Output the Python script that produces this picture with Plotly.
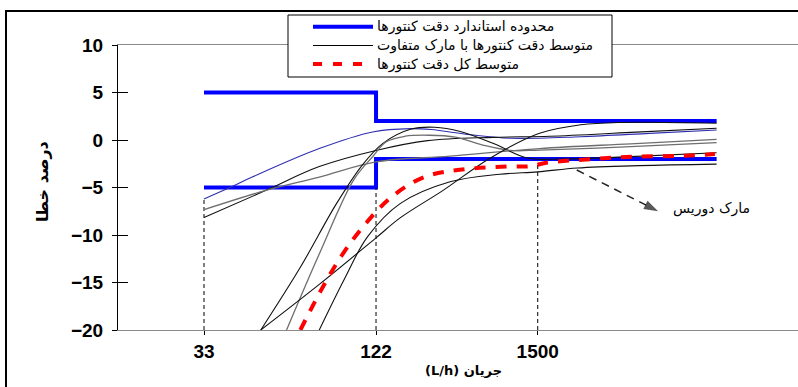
import plotly.graph_objects as go

# ---------------- data ----------------
# x axis units: 33 L/h -> 0, 122 L/h -> 1 (positions as drawn in the chart)
flow_tick_pos = [0, 1, 1.94]
flow_tick_text = ["33", "122", "1500"]
y_ticks = [10, 5, 0, -5, -10, -15, -20]

std_x = [0, 1, 2.98]
std_upper = [5, 2, 2]
std_lower = [-5, -2, -2]

guide_top = [-6.2, -5.0, -2.3]

n_x = [0, 0.15, 0.28, 0.67, 0.98, 1.2, 1.32, 1.55, 1.78, 2.19, 2.59, 2.98]
n_y = [-6.2, -5.0, -3.9, -0.9, 0.85, 1.2, 1.1, 0.55, 0.18, 0.35, 0.7, 1.06]

b1_x = [0, 0.36, 0.67, 1.0, 1.30, 1.68, 2.01, 2.48, 2.98]
b1_y = [-8.17, -5.3, -2.8, -1.1, -0.07, 0.28, 0.4, 0.8, 1.24]

g1_x = [0, 0.36, 0.67, 1.0, 1.43, 1.95, 2.48, 2.98]
g1_y = [-7.33, -5.3, -3.9, -2.3, -1.7, -0.9, -0.4, 0.07]

s1_x = [0.33, 0.56, 0.77, 0.92, 1.04, 1.20, 1.34, 1.49, 1.68, 1.88, 2.07, 2.48, 2.98]
s1_y = [-20, -13.4, -6.7, -2.64, -0.35, 1.13, 1.35, 0.9, -0.35, -1.9, -2.0, -1.75, -1.34]

s2_x = [0.48, 0.67, 0.87, 0.98, 1.06, 1.17, 1.31, 1.46, 1.62, 1.78, 1.95, 2.48, 2.98]
s2_y = [-20, -12.0, -4.2, -1.76, -0.18, 0.4, 0.5, 0.3, -0.53, -1.1, -1.06, -0.7, -0.28]

r_x = [0.33, 0.67, 1.0, 1.14, 1.39, 1.66, 1.95, 2.19, 2.42, 2.98]
r_y = [-20, -15.2, -10.3, -8.2, -5.3, -1.94, 0.7, 1.6, 1.85, 1.76]

d_x = [0.67, 0.82, 0.95, 1.14, 1.43, 1.72, 1.94, 2.17, 2.53, 2.98]
d_y = [-20, -14.5, -10.2, -6.7, -4.4, -3.6, -3.35, -2.95, -2.7, -2.54]

mean_x = [0.56, 0.69, 0.81, 0.94, 1.09, 1.28, 1.50, 1.76, 1.90, 1.99, 2.26, 2.51, 2.78, 2.97]
mean_y = [-20, -15.5, -11.9, -8.8, -6.0, -3.9, -3.1, -2.8, -2.75, -2.4, -2.0, -1.75, -1.66, -1.48]

doris_arrow_x = [2.167, 2.64]
doris_arrow_y = [-3.16, -7.5]
doris_label = (2.95, -7.2)

legend_labels = ["محدوده استاندارد دقت کنتورها",
                 "متوسط دقت کنتورها با مارک متفاوت",
                 "متوسط کل دقت کنتورها"]

FA = "DejaVu Sans"
NUM = "Liberation Sans, Arial"

fig = go.Figure()

# standard band (step)
for yy in (std_upper, std_lower):
    fig.add_trace(go.Scatter(x=std_x, y=yy, mode="lines", line_shape="hv",
                             line=dict(color="#0000ff", width=4), showlegend=False,
                             hoverinfo="skip"))

# dashed guides at tick flows
for xp, yt in zip(flow_tick_pos, guide_top):
    fig.add_trace(go.Scatter(x=[xp, xp], y=[-20, yt], mode="lines",
                             line=dict(color="#000000", width=1, dash="4px,3px"),
                             showlegend=False, hoverinfo="skip"))

curves = [
    (n_x, n_y, "#2e2eb0", 1.1),
    (b1_x, b1_y, "#111111", 1.1),
    (g1_x, g1_y, "#6e6e6e", 1.3),
    (s1_x, s1_y, "#111111", 1.1),
    (s2_x, s2_y, "#6e6e6e", 1.3),
    (r_x, r_y, "#111111", 1.1),
    (d_x, d_y, "#111111", 1.1),
]
for cx, cy, col, w in curves:
    fig.add_trace(go.Scatter(x=cx, y=cy, mode="lines", line_shape="spline",
                             line=dict(color=col, width=w), showlegend=False,
                             hoverinfo="skip"))

fig.add_trace(go.Scatter(x=mean_x, y=mean_y, mode="lines", line_shape="spline",
                         line=dict(color="#ff0000", width=4, dash="11px,10px"),
                         showlegend=False, hoverinfo="skip"))

# arrow to Doris label (dashed shaft with arrow head marker)
fig.add_trace(go.Scatter(x=doris_arrow_x, y=doris_arrow_y, mode="lines+markers",
                         line=dict(color="#222222", width=1.5, dash="8px,6px"),
                         marker=dict(symbol=["circle", "arrow"], size=[0, 15],
                                     angleref="previous", color="#111111",
                                     line=dict(width=0)),
                         showlegend=False, hoverinfo="skip"))
# empty trace to carry the inner-tick axis
fig.add_trace(go.Scatter(x=[None], y=[None], yaxis="y2", showlegend=False, hoverinfo="skip"))

ann = []
ann.append(dict(x=doris_label[0], y=doris_label[1], xref="x", yref="y", text="مارک دوریس",
                showarrow=False, font=dict(family=FA, size=14, color="#000"),
                xanchor="center", yanchor="middle"))

# axis titles
ann.append(dict(x=(463 - 118) / 680, y=(330 - 370) / 285, xref="paper", yref="paper",
                text="(L/h) جریان", showarrow=False,
                font=dict(family=FA, size=13, color="#000", weight="bold"),
                xanchor="center", yanchor="middle"))
ann.append(dict(x=(42 - 118) / 680, y=(330 - 182) / 285, xref="paper", yref="paper",
                text="درصد خطا", showarrow=False, textangle=-90,
                font=dict(family=FA, size=16, color="#000", weight="bold"),
                xanchor="center", yanchor="middle"))

# custom legend box
shapes = []
shapes.append(dict(type="rect", xref="paper", yref="paper",
                   x0=(6 - 118) / 680, x1=1.05, y0=-0.4, y1=1 + (45 - 11) / 285,
                   line=dict(color="#000", width=2), fillcolor="rgba(0,0,0,0)", layer="above"))
shapes.append(dict(type="rect", xref="paper", yref="paper",
                   x0=(288 - 118) / 680, x1=(612 - 118) / 680,
                   y0=1 - (77 - 45) / 285, y1=1 + (45 - 15) / 285,
                   line=dict(color="#000", width=1), fillcolor="white", layer="above"))
leg_y = [26.7, 45.5, 64]
leg_styles = [dict(color="#0000ff", width=4), dict(color="#000", width=1),
              dict(color="#ff0000", width=4, dash="9px,11px")]
for py, st, lab in zip(leg_y, leg_styles, legend_labels):
    yp = 1 + (45 - py) / 285
    shapes.append(dict(type="line", xref="paper", yref="paper",
                       x0=(313 - 118) / 680, x1=(373 - 118) / 680, y0=yp, y1=yp,
                       line=st, layer="above"))
    ann.append(dict(x=(375 - 118) / 680, y=yp, xref="paper", yref="paper", text=lab,
                    showarrow=False, font=dict(family=FA, size=14, color="#000"),
                    xanchor="left", yanchor="middle"))

fig.update_layout(
    width=798, height=387, autosize=False,
    margin=dict(l=118, r=0, t=45, b=57, pad=0),
    paper_bgcolor="white", plot_bgcolor="white",
    showlegend=False,
    xaxis=dict(range=[-0.5, 3.453], tickvals=flow_tick_pos, ticktext=flow_tick_text,
               ticks="outside", ticklen=4, tickcolor="#000", showline=True,
               linecolor="#8a8a8a", linewidth=1, mirror=True, showgrid=False,
               zeroline=False, tickfont=dict(family=NUM, size=19, color="#000", weight="bold")),
    yaxis=dict(range=[-20, 10], tickvals=y_ticks, ticks="outside", ticklen=5,
               tickcolor="#000", showline=True, linecolor="#000", linewidth=1,
               showgrid=False, zeroline=False, ticklabelstandoff=5,
               tickfont=dict(family=NUM, size=19, color="#000", weight="bold")),
    yaxis2=dict(range=[-20, 10], overlaying="y", anchor="x", side="left",
                tickvals=y_ticks, ticks="inside", ticklen=10, tickcolor="#000",
                showticklabels=False, showline=False, showgrid=False, zeroline=False),
    shapes=shapes,
    annotations=ann,
)

fig.write_html("out.html", config={"displayModeBar": False},
               post_script="document.body.style.margin='0';")
